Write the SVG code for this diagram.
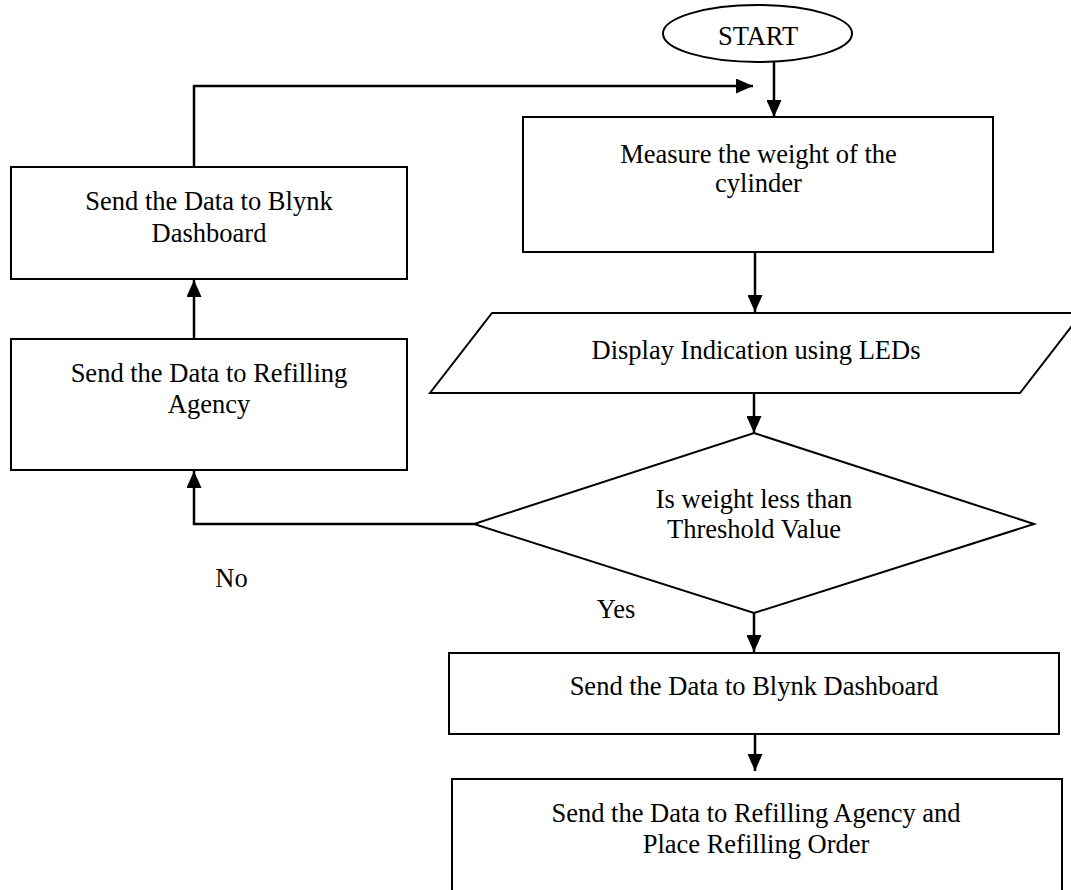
<svg xmlns="http://www.w3.org/2000/svg" width="1071" height="890" viewBox="0 0 1071 890">
<style>
.shape{fill:#fff;stroke:#000;stroke-width:2}
.conn{fill:none;stroke:#000;stroke-width:2.5}
text{font-family:"Liberation Serif","Times New Roman",serif;font-size:26.5px;fill:#000;text-anchor:middle}
</style>
<defs>
<marker id="arr" markerUnits="userSpaceOnUse" markerWidth="17" markerHeight="15" refX="17" refY="7.5" orient="auto">
<path d="M0,0 L17,7.5 L0,15 z" fill="#000"/>
</marker>
</defs>
<rect width="1071" height="890" fill="#fff"/>
<g id="connectors">
<line class="conn" x1="774" y1="62" x2="774" y2="117" marker-end="url(#arr)"/>
<polyline class="conn" points="194,167 194,86 753,86" marker-end="url(#arr)"/>
<line class="conn" x1="194" y1="339" x2="194" y2="280" marker-end="url(#arr)"/>
<polyline class="conn" points="474,524 194,524 194,471" marker-end="url(#arr)"/>
<line class="conn" x1="755" y1="252" x2="755" y2="312" marker-end="url(#arr)"/>
<line class="conn" x1="754" y1="393" x2="754" y2="433" marker-end="url(#arr)"/>
<line class="conn" x1="754" y1="613" x2="754" y2="652" marker-end="url(#arr)"/>
<line class="conn" x1="755" y1="734" x2="755" y2="771" marker-end="url(#arr)"/>
</g>
<g id="start">
<ellipse class="shape" cx="757.5" cy="33.5" rx="94.5" ry="28.5"/>
<text x="758" y="45" font-size="25.5">START</text>
</g>
<g id="measure">
<rect class="shape" x="523" y="117" width="470" height="135"/>
<text x="758.5" y="163">Measure the weight of the</text>
<text x="758.5" y="191.5">cylinder</text>
</g>
<g id="display">
<polygon class="shape" points="492,313 1082,313 1020,393 430,393"/>
<text x="756" y="359">Display Indication using LEDs</text>
</g>
<g id="decision">
<polygon class="shape" points="754,433 1034,524 754,613 474,524"/>
<text x="754" y="508">Is weight less than</text>
<text x="754" y="538">Threshold Value</text>
</g>
<g id="blynk-left">
<rect class="shape" x="11" y="167" width="396" height="112"/>
<text x="209" y="210">Send the Data to Blynk</text>
<text x="209" y="242">Dashboard</text>
</g>
<g id="refill-left">
<rect class="shape" x="11" y="339" width="396" height="131"/>
<text x="209" y="382">Send the Data to Refilling</text>
<text x="209" y="413">Agency</text>
</g>
<g id="label-no">
<text x="231.5" y="587" font-size="30">No</text>
</g>
<g id="label-yes">
<text x="616" y="618" font-size="25.5">Yes</text>
</g>
<g id="blynk-bottom">
<rect class="shape" x="449" y="653" width="610" height="81"/>
<text x="754" y="695">Send the Data to Blynk Dashboard</text>
</g>
<g id="refill-order">
<rect class="shape" x="452" y="779" width="610" height="130"/>
<text x="756" y="822">Send the Data to Refilling Agency and</text>
<text x="756" y="853">Place Refilling Order</text>
</g>
</svg>
